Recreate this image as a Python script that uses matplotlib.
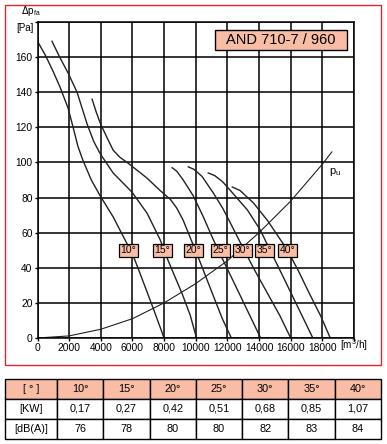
import matplotlib
matplotlib.use('Agg')
import matplotlib.pyplot as plt
from matplotlib.patches import Rectangle

plt.rcParams['font.family'] = ['Liberation Sans', 'DejaVu Sans']

# fan curves: airflow [m3/h], pressure [Pa]
angles = ['10°', '15°', '20°', '25°', '30°', '35°', '40°']
curve_x = [
    [0, 500, 980, 1420, 1930, 2250, 2560, 2880, 3400, 3960, 4780, 5410, 6045, 6680, 7310, 8000],
    [918, 1400, 1930, 2500, 3130, 3550, 3960, 4780, 5980, 6930, 7750, 8260, 9150, 9650, 10050],
    [3450, 3700, 3960, 4400, 4780, 5200, 5665, 6300, 6930, 7750, 8390, 8800, 9210, 9840, 10290,
     11110, 11680, 12250],
    [8510, 8800, 9210, 9840, 10480, 11110, 11800, 12500, 13300, 14100],
    [9530, 9900, 10400, 11110, 11700, 12190, 12950, 13700, 14500, 15300, 16000],
    [10790, 11200, 11700, 12190, 13260, 14080, 14590, 15300, 16000, 16700, 17400],
    [12310, 12800, 13640, 14530, 15350, 15800, 16500, 17200, 17900, 18500],
]
curve_y = [
    [169, 161, 152, 143, 131, 120, 109, 101, 90, 81, 69, 58, 47, 32, 17, 0],
    [169, 160, 151, 140, 122, 112, 105, 94, 83, 71, 56, 44, 25, 13, 0],
    [136, 129, 122.5, 114, 107, 103, 100, 95.5, 91, 84, 79, 74, 67, 53, 43, 24, 11, 0],
    [97, 95, 90, 81, 69, 56, 43, 30, 15, 0],
    [97.5, 96, 92, 82.6, 74, 65.5, 52, 39, 26, 13, 0],
    [94, 92.5, 89, 84, 73, 61.5, 52, 39, 26, 13, 0],
    [86, 84, 77, 67, 56, 50, 38, 25, 12.5, 0],
]
label_x = [5730, 7880, 9840, 11550, 12950, 14340, 15790]
label_y = 50

# system curve pu
pu_x = [0, 2000, 4000, 6000, 8000, 10000, 12000, 14000, 16000, 18000, 18600]
pu_y = [0, 1.2, 5, 11, 20, 31, 44, 60, 78, 99, 106]

# table
row_heads = ['[ ° ]', '[KW]', '[dB(A)]']
power_kw = ['0,17', '0,27', '0,42', '0,51', '0,68', '0,85', '1,07']
noise_db = ['76', '78', '80', '80', '82', '83', '84']

salmon = '#F9BDA5'

fig = plt.figure(figsize=(3.87, 4.44), dpi=100)

# red frame around the chart
fig.patches.append(Rectangle((0.0129, 0.178), 0.9716, 0.8108, transform=fig.transFigure,
                             fill=False, edgecolor='#E3262B', linewidth=1.0))

ax = fig.add_axes([0.0969, 0.2387, 0.8178, 0.7118])
ax.set_xlim(0, 20000)
ax.set_ylim(0, 180)
ax.set_xticks(range(0, 20001, 2000))
ax.set_yticks(range(0, 181, 20))
ax.set_xticklabels([str(v) for v in range(0, 18001, 2000)] + [''])
ax.set_yticklabels([str(v) for v in range(0, 161, 20)] + [''])
ax.grid(color='black', linewidth=1.1)
ax.set_axisbelow(True)
for s in ax.spines.values():
    s.set_linewidth(1.1)
ax.tick_params(labelsize=7.4, length=2, width=1, pad=1.5)

for xs, ys in zip(curve_x, curve_y):
    ax.plot(xs, ys, color='#222222', linewidth=1.0)
ax.plot(pu_x, pu_y, color='#222222', linewidth=0.8)
ax.text(18400, 94.6, r'p$_\mathregular{u}$', fontsize=8, va='center', ha='left')

for a, lx in zip(angles, label_x):
    ax.text(lx, label_y, a, fontsize=7.5, ha='center', va='center',
            bbox=dict(boxstyle='square,pad=0.15', facecolor=salmon, edgecolor='black', linewidth=0.9))

# title box
ax.add_patch(Rectangle((0.561, 0.911), 0.417, 0.064, transform=ax.transAxes,
                       facecolor=salmon, edgecolor='black', linewidth=1.0, zorder=5))
ax.text(0.7695, 0.943, 'AND 710-7 / 960', transform=ax.transAxes, fontsize=10.5,
        ha='center', va='center', zorder=6)

fig.text(0.053, 0.975, r'$\Delta$p$_\mathregular{fa}$', fontsize=7, ha='left', va='center')
fig.text(0.043, 0.937, '[Pa]', fontsize=7, ha='left', va='center')
fig.text(0.878, 0.222, r'[m$^\mathregular{3}$/h]', fontsize=7.2, ha='left', va='center')

# data table
tax = fig.add_axes([0.0129, 0.0113, 0.9716, 0.1351])
tax.axis('off')
cells = [[row_heads[0]] + angles, [row_heads[1]] + power_kw, [row_heads[2]] + noise_db]
w0 = 52 / 376
w = (1 - w0) / 7
tbl = tax.table(cellText=cells, cellLoc='center', bbox=[0, 0, 1, 1],
                colWidths=[w0] + [w] * 7)
tbl.auto_set_font_size(False)
tbl.set_fontsize(7.8)
for (r, c), cell in tbl.get_celld().items():
    cell.set_linewidth(1.0)
    if r == 0:
        cell.set_facecolor(salmon)

fig.savefig('out.png', dpi=100)
